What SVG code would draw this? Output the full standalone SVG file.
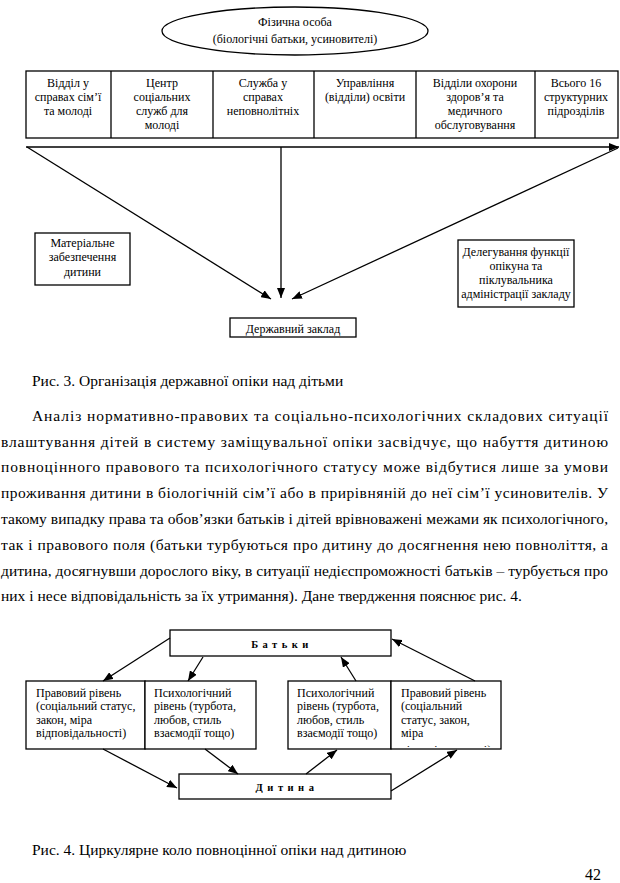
<svg xmlns="http://www.w3.org/2000/svg" width="620" height="883" viewBox="0 0 620 883">
<style>
text{font-family:"Liberation Serif","Times New Roman",serif;fill:#000}
.s{font-size:12px}
.c{text-anchor:middle}
.b{font-size:15.5px}
.sp{font-size:10.5px;font-weight:bold;letter-spacing:4.5px}
.box{fill:#fff;stroke:#000;stroke-width:1.3}
.ln{stroke:#000;stroke-width:1.3;fill:none}
.ar{stroke:#000;stroke-width:1.3;fill:none;marker-end:url(#ah)}
</style>
<defs>
<marker id="ah" markerUnits="userSpaceOnUse" markerWidth="10" markerHeight="8" refX="10" refY="4" orient="auto"><path d="M0,0 L10,4 L0,8 z" fill="#000"/></marker>
<clipPath id="clipR"><rect x="392" y="681" width="109" height="66"/></clipPath>
</defs>
<rect width="620" height="883" fill="#fff"/>

<!-- Figure 3 -->
<g id="person">
<ellipse class="box" cx="295" cy="31" rx="133" ry="24"/>
<text class="s c" x="295" y="26">Фізична особа</text>
<text class="s c" x="295" y="43">(біологічні батьки, усиновителі)</text>
</g>
<g id="table">
<rect class="box" x="26" y="71" width="592" height="67"/>
<line class="ln" x1="111" y1="71" x2="111" y2="138"/>
<line class="ln" x1="213" y1="71" x2="213" y2="138"/>
<line class="ln" x1="314" y1="71" x2="314" y2="138"/>
<line class="ln" x1="416" y1="71" x2="416" y2="138"/>
<line class="ln" x1="535" y1="71" x2="535" y2="138"/>
</g>
<g id="col1"><text class="s c" x="68" y="87">Відділ у</text><text class="s c" x="68" y="101">справах сім’ї</text><text class="s c" x="68" y="115">та молоді</text></g>
<g id="col2"><text class="s c" x="162" y="87">Центр</text><text class="s c" x="162" y="101">соціальних</text><text class="s c" x="162" y="115">служб для</text><text class="s c" x="162" y="129">молоді</text></g>
<g id="col3"><text class="s c" x="263" y="87">Служба у</text><text class="s c" x="263" y="101">справах</text><text class="s c" x="263" y="115">неповнолітніх</text></g>
<g id="col4"><text class="s c" x="365" y="87">Управління</text><text class="s c" x="365" y="101">(відділи) освіти</text></g>
<g id="col5"><text class="s c" x="475" y="87">Відділи охорони</text><text class="s c" x="475" y="101">здоров’я та</text><text class="s c" x="475" y="115">медичного</text><text class="s c" x="475" y="129">обслуговування</text></g>
<g id="col6"><text class="s c" x="576" y="87">Всього 16</text><text class="s c" x="576" y="101">структурних</text><text class="s c" x="576" y="115">підрозділів</text></g>

<g id="material">
<rect class="box" x="35" y="233" width="95" height="52"/>
<text class="s c" x="82.5" y="247">Матеріальне</text>
<text class="s c" x="82.5" y="261">забезпечення</text>
<text class="s c" x="82.5" y="276">дитини</text>
</g>
<g id="delegation">
<rect class="box" x="458" y="240" width="116" height="67"/>
<text class="s c" x="516" y="256">Делегування функції</text>
<text class="s c" x="516" y="270">опікуна та</text>
<text class="s c" x="516" y="284">піклувальника</text>
<text class="s c" x="516" y="298">адміністрації закладу</text>
</g>
<g id="state">
<rect class="box" x="230" y="318" width="126" height="19"/>
<text class="s c" x="293" y="333">Державний заклад</text>
</g>

<g id="connectors3">
<line class="ar" x1="26" y1="147" x2="619" y2="147"/>
<line class="ar" x1="27" y1="147" x2="271" y2="299"/>
<line class="ar" x1="281" y1="147" x2="281" y2="298"/>
<line class="ar" x1="618" y1="148" x2="292" y2="299"/>
</g>

<text class="b" x="32" y="386">Рис. 3. Організація державної опіки над дітьми</text>

<g id="paragraph">
<text class="b" x="32" y="421" textLength="576" lengthAdjust="spacing">Аналіз нормативно-правових та соціально-психологічних складових ситуації</text>
<text class="b" x="1" y="447" textLength="607" lengthAdjust="spacing">влаштування дітей в систему заміщувальної опіки засвідчує, що набуття дитиною</text>
<text class="b" x="1" y="472" textLength="607" lengthAdjust="spacing">повноцінного правового та психологічного статусу може відбутися лише за умови</text>
<text class="b" x="1" y="498" textLength="607" lengthAdjust="spacing">проживання дитини в біологічній сім’ї або в прирівняній до неї сім’ї усиновителів. У</text>
<text class="b" x="1" y="524" textLength="607" lengthAdjust="spacing">такому випадку права та обов’язки батьків і дітей врівноважені межами як психологічного,</text>
<text class="b" x="1" y="550" textLength="607" lengthAdjust="spacing">так і правового поля (батьки турбуються про дитину до досягнення нею повноліття, а</text>
<text class="b" x="1" y="576" textLength="607" lengthAdjust="spacing">дитина, досягнувши дорослого віку, в ситуації недієспроможності батьків – турбується про</text>
<text class="b" x="1" y="601">них і несе відповідальність за їх утримання). Дане твердження пояснює рис. 4.</text>
</g>

<!-- Figure 4 -->
<g id="parents">
<rect class="box" x="170" y="630" width="221" height="26"/>
<text class="sp c" x="282" y="648">Батьки</text>
</g>
<g id="child">
<rect class="box" x="179" y="774" width="212" height="25"/>
<text class="sp c" x="287" y="791">Дитина</text>
</g>
<g id="leftLegal">
<rect class="box" x="26" y="681" width="119" height="68"/>
<text class="s" x="36" y="697">Правовий рівень</text>
<text class="s" x="36" y="710">(соціальний статус,</text>
<text class="s" x="36" y="724">закон, міра</text>
<text class="s" x="36" y="737">відповідальності)</text>
</g>
<g id="leftPsych">
<rect class="box" x="145" y="681" width="111" height="68"/>
<text class="s" x="154" y="697">Психологічний</text>
<text class="s" x="154" y="710">рівень (турбота,</text>
<text class="s" x="154" y="724">любов, стиль</text>
<text class="s" x="154" y="737">взаємодії тощо)</text>
</g>
<g id="rightPsych">
<rect class="box" x="288" y="681" width="103" height="68"/>
<text class="s" x="297" y="697">Психологічний</text>
<text class="s" x="297" y="710">рівень (турбота,</text>
<text class="s" x="297" y="724">любов, стиль</text>
<text class="s" x="297" y="737">взаємодії тощо)</text>
</g>
<g id="rightLegal">
<rect class="box" x="391" y="681" width="110" height="68"/>
<text class="s" x="401" y="697">Правовий рівень</text>
<text class="s" x="401" y="710">(соціальний</text>
<text class="s" x="401" y="724">статус, закон,</text>
<text class="s" x="401" y="737">міра</text>
<text class="s" x="401" y="754" clip-path="url(#clipR)">відповідальності)</text>
</g>

<g id="connectors4">
<line class="ar" x1="170" y1="638" x2="103" y2="681"/>
<line class="ar" x1="203" y1="657" x2="188" y2="681"/>
<line class="ar" x1="103" y1="749" x2="177" y2="788"/>
<line class="ar" x1="205" y1="749" x2="238" y2="774"/>
<line class="ar" x1="306" y1="774" x2="337" y2="750"/>
<line class="ar" x1="391" y1="791" x2="457" y2="750"/>
<line class="ar" x1="356" y1="681" x2="341" y2="657"/>
<line class="ar" x1="475" y1="681" x2="392" y2="639"/>
</g>

<text class="b" x="32" y="855">Рис. 4. Циркулярне коло повноцінної опіки над дитиною</text>
<text class="b" x="601" y="880" style="text-anchor:end;font-size:16px">42</text>
</svg>
